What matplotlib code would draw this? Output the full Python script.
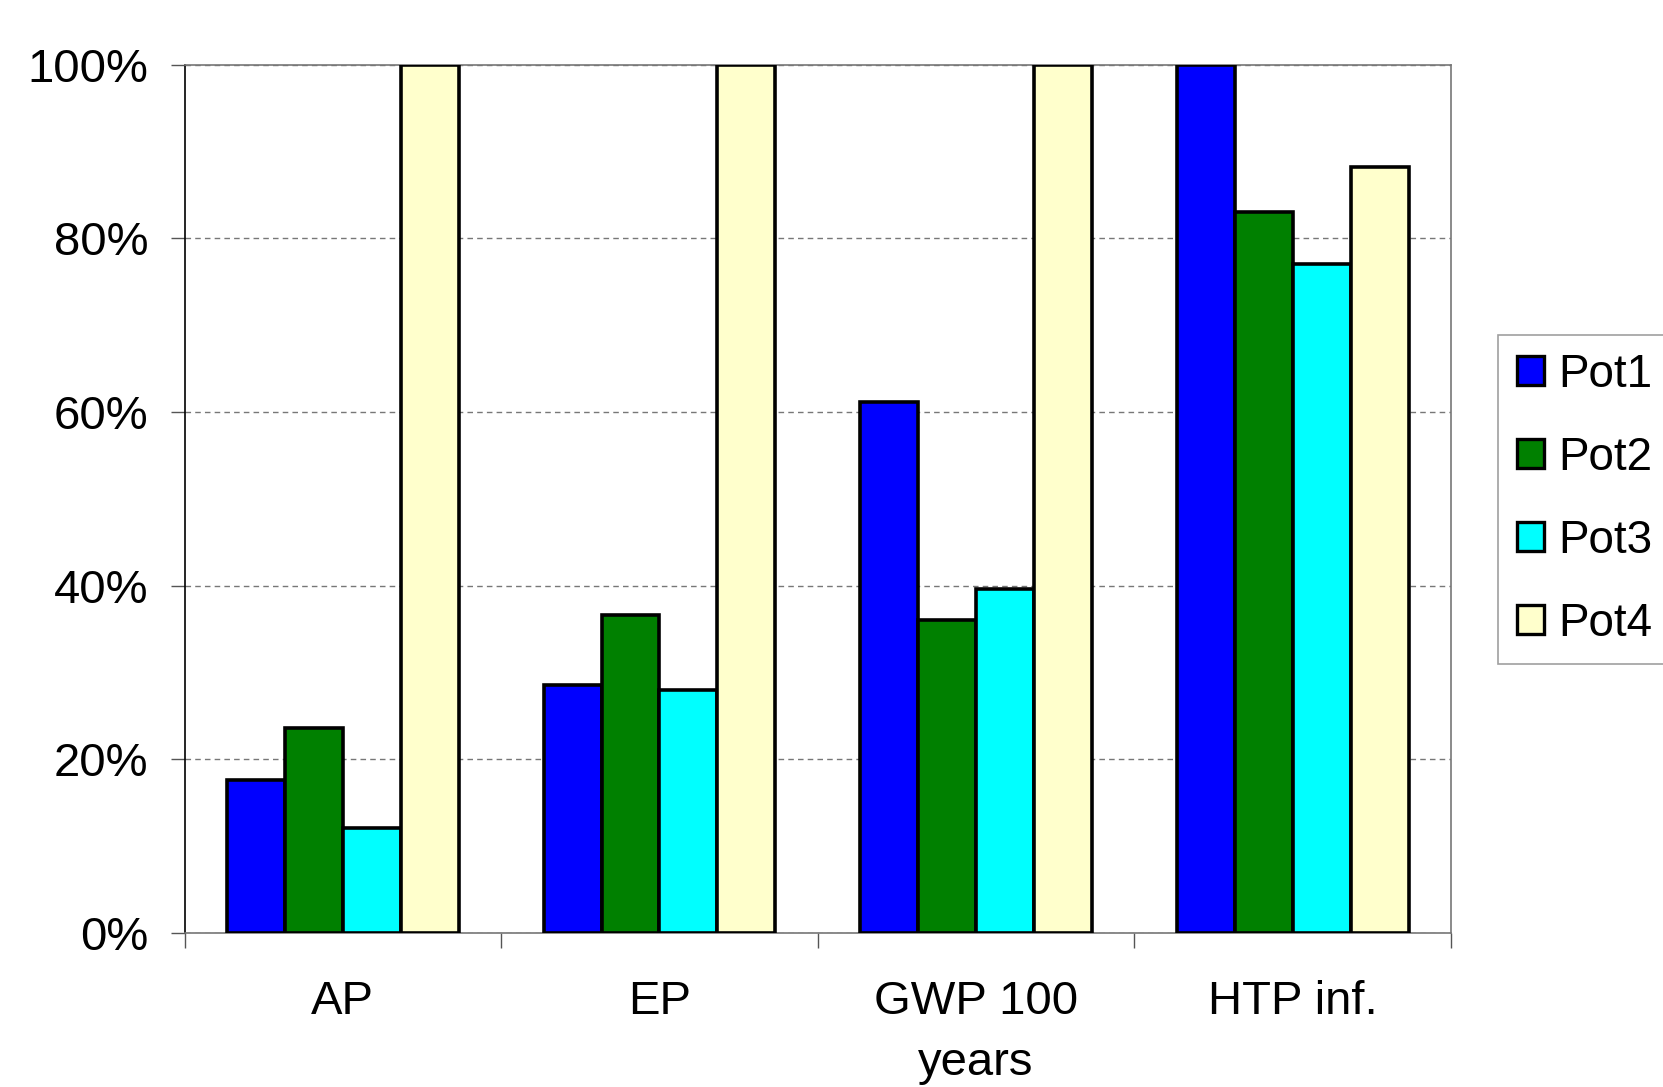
import numpy as np
import matplotlib.pyplot as plt
from matplotlib.ticker import FixedLocator, NullFormatter

categories = ['AP', 'EP', 'GWP 100\nyears', 'HTP inf.']
series = ['Pot1', 'Pot2', 'Pot3', 'Pot4']
pot1 = [17.6, 28.6, 61.1, 100.0]
pot2 = [23.6, 36.6, 36.1, 83.0]
pot3 = [12.1, 28.0, 39.6, 77.0]
pot4 = [100.0, 100.0, 100.0, 88.2]
colors = ['#0000FF', '#008000', '#00FFFF', '#FFFFCC']

plt.rcParams['font.family'] = ['Liberation Sans', 'DejaVu Sans']

fig = plt.figure(figsize=(16.63, 10.87), dpi=100)
ax = fig.add_axes([0.111, 0.1417, 0.7615, 0.7988])

x = np.arange(len(categories))
w = 0.183
for i, (vals, c, name) in enumerate(zip([pot1, pot2, pot3, pot4], colors, series)):
    ax.bar(x + (i - 1.5) * w, vals, w, color=c, edgecolor='black',
           linewidth=2.6, label=name, zorder=3)

ax.set_xlim(-0.5, len(categories) - 0.5)
ax.set_ylim(0, 100)

# category boundaries as ticks, names centred between
ax.xaxis.set_major_locator(FixedLocator(np.arange(-0.5, len(categories), 1.0)))
ax.xaxis.set_major_formatter(NullFormatter())
ax.xaxis.set_minor_locator(FixedLocator(x))
ax.set_xticklabels(categories, minor=True)
ax.tick_params(axis='x', which='major', length=11, width=1, color='#555555')
ax.tick_params(axis='x', which='minor', length=0, pad=34, labelsize=34)
for lbl in ax.get_xticklabels(minor=True):
    lbl.set_linespacing(1.5)
    lbl.set_verticalalignment('top')

ax.set_yticks([0, 20, 40, 60, 80, 100])
ax.set_yticklabels(['0%', '20%', '40%', '60%', '80%', '100%'])
ax.tick_params(axis='y', length=10, width=1, color='#555555', pad=16, labelsize=34)

ax.yaxis.grid(True, linestyle=(0, (4, 3)), color='#777777', linewidth=1, zorder=0)
for s in ['top', 'right', 'bottom']:
    ax.spines[s].set_color('#777777')
    ax.spines[s].set_linewidth(1.2)
ax.spines['left'].set_color('black')
ax.spines['left'].set_linewidth(1.2)

leg = ax.legend(loc='center left', bbox_to_anchor=(0.901, 0.5405),
                bbox_transform=fig.transFigure, fontsize=33, frameon=True,
                fancybox=False, edgecolor='#888888', handlelength=0.6,
                handleheight=0.6, handletextpad=0.3, labelspacing=0.85,
                borderpad=0.4, borderaxespad=0)
leg.get_frame().set_linewidth(1.2)
for h in leg.legend_handles:
    h.set_linewidth(2.4)

fig.savefig('out.png', dpi=100)
